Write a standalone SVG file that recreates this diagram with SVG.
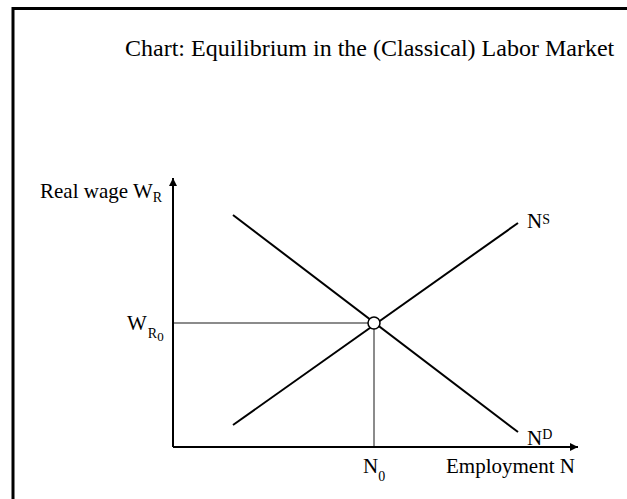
<svg xmlns="http://www.w3.org/2000/svg" width="627" height="499" viewBox="0 0 627 499">
<style>
text{font-family:"Liberation Serif","Times New Roman",serif;fill:#000}
.lbl{font-size:21px}
.sub{font-size:14px}
.curve{stroke:#000;stroke-width:2;fill:none}
.axis{stroke:#000;stroke-width:2;fill:none}
.guide{stroke:#666;stroke-width:1.5;fill:none}
</style>
<defs>
<marker id="arr" viewBox="0 0 10 10" refX="10" refY="5" markerWidth="4.5" markerHeight="4" markerUnits="strokeWidth" orient="auto">
<path d="M0,0 L10,5 L0,10 z" fill="#000"/>
</marker>
</defs>
<rect width="627" height="499" fill="#fff"/>
<path d="M13,499 V8.5 H627" fill="none" stroke="#000" stroke-width="3"/>
<g id="title"><text x="125" y="56" style="font-size:24px">Chart: Equilibrium in the (Classical) Labor Market</text></g>
<g id="connectors">
<path class="guide" d="M173,323 H374 V447"/>
<path class="axis" d="M173,447 V178" marker-end="url(#arr)"/>
<path class="axis" d="M173,447 H578" marker-end="url(#arr)"/>
</g>
<g id="demand"><path class="curve" d="M233,215 L518,432"/><text class="lbl" x="527" y="445">N<tspan class="sub" dy="-6">D</tspan></text></g>
<g id="supply"><path class="curve" d="M233,425 L518,223"/><text class="lbl" x="527" y="228">N<tspan class="sub" dy="-4">S</tspan></text></g>
<g id="equilibrium"><circle cx="374" cy="323" r="6" fill="#fff" stroke="#000" stroke-width="1.5"/></g>
<g id="y-label"><text class="lbl" x="40" y="198">Real wage W<tspan class="sub" dy="4">R</tspan></text></g>
<g id="wr0"><text class="lbl" x="127" y="330">W<tspan class="sub" dx="1" dy="8">R</tspan><tspan style="font-size:13px" dy="3">0</tspan></text></g>
<g id="n0"><text class="lbl" x="363" y="473">N<tspan class="sub" dy="8">0</tspan></text></g>
<g id="x-label"><text class="lbl" x="446" y="473">Employment N</text></g>
</svg>
